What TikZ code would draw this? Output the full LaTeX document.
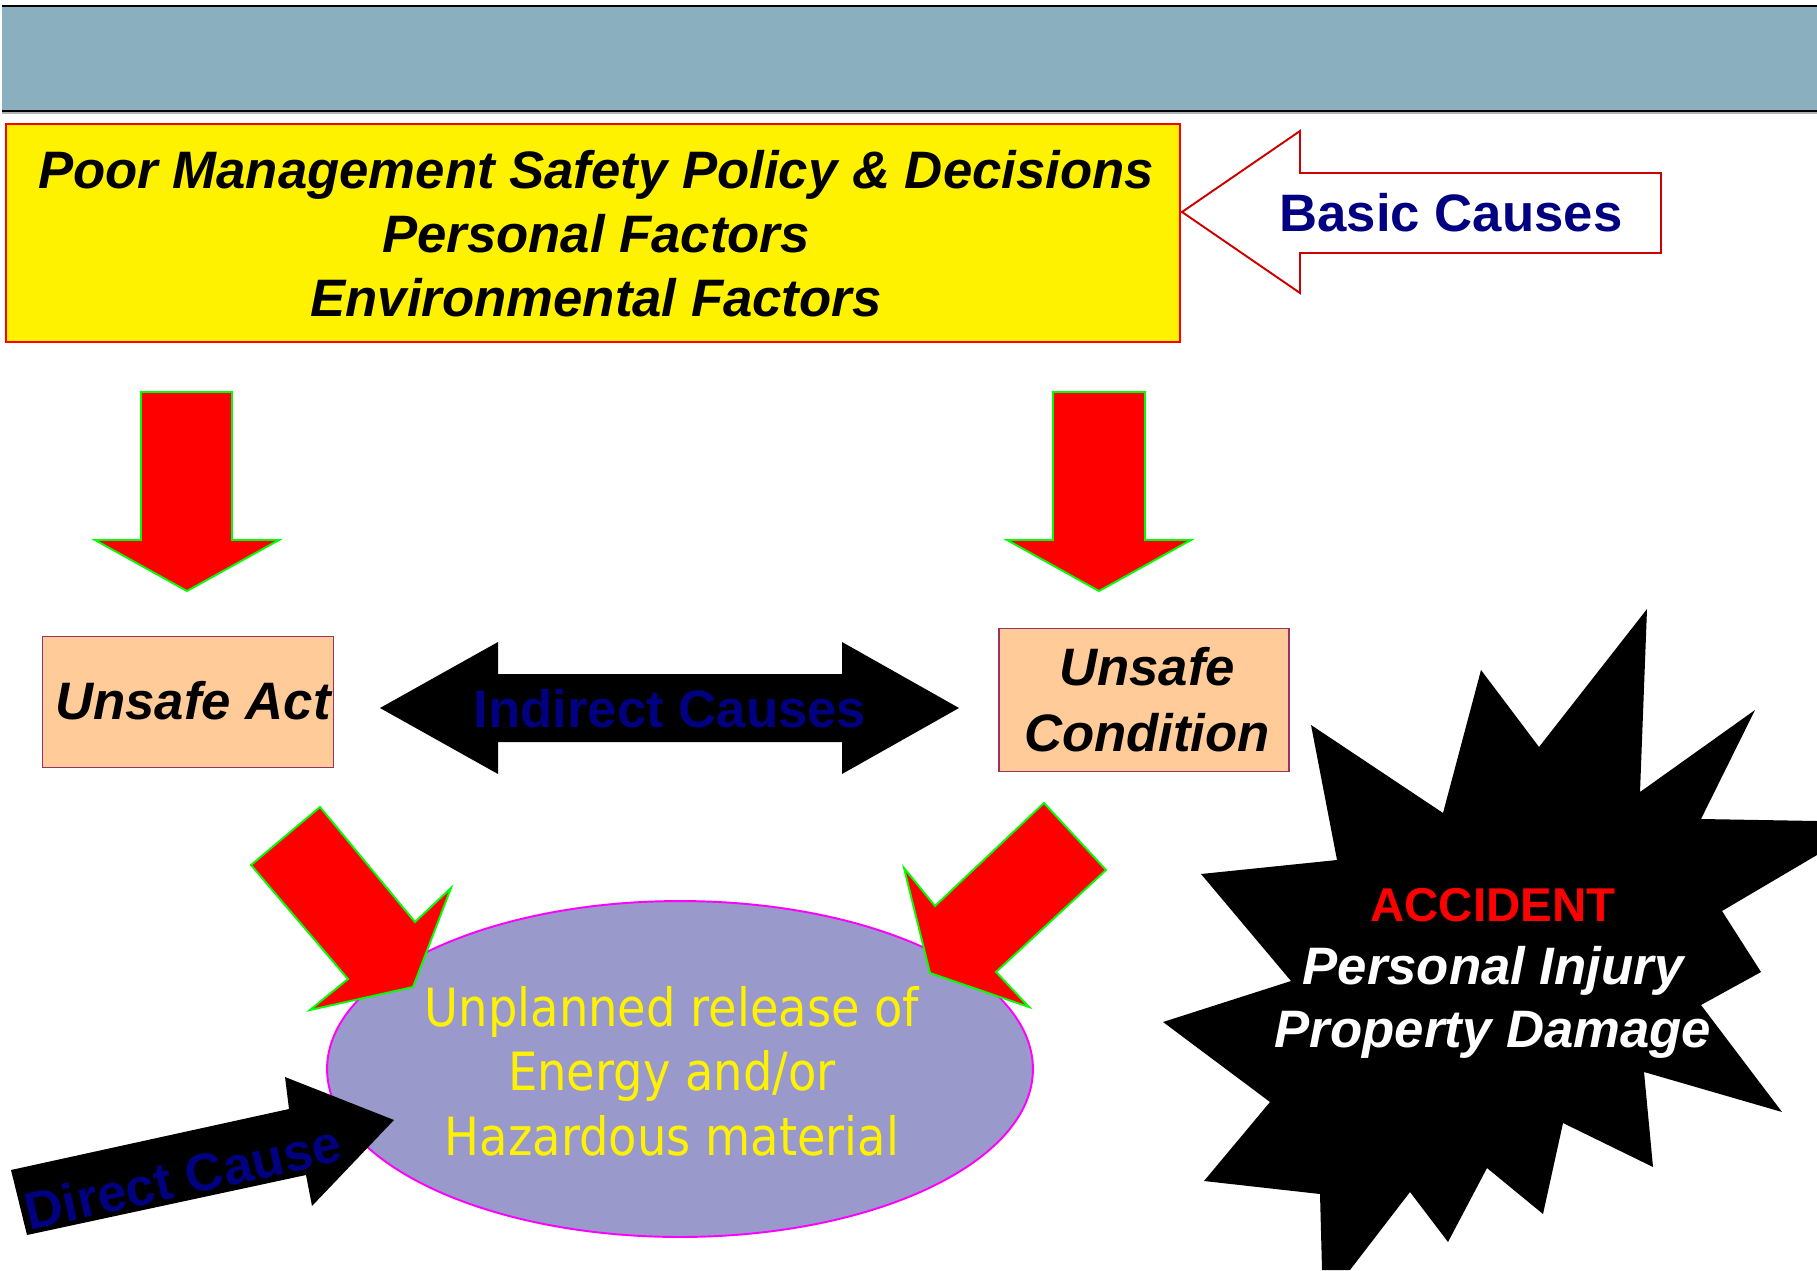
\documentclass[tikz,border=0pt]{standalone}
\usepackage{fontspec}
\setmainfont{Liberation Sans}
\newfontfamily\relfont[FakeStretch=0.88]{DejaVu Sans}
\usetikzlibrary{shapes.geometric}

\definecolor{bandblue}{RGB}{138,175,191}
\definecolor{peach}{RGB}{255,204,153}
\definecolor{plum}{RGB}{153,51,102}
\definecolor{lavender}{RGB}{153,153,204}
\definecolor{navyblue}{RGB}{0,0,128}
\definecolor{edgegreen}{RGB}{0,255,0}
\definecolor{darkred}{RGB}{204,0,0}
\definecolor{pinkline}{RGB}{255,0,255}

\begin{document}
\begin{tikzpicture}[x=0.02cm, y=-0.02cm, line join=miter,
    redarrow/.style={fill=red, draw=edgegreen, line width=1.1pt},
    blackarrow/.style={fill=black},
    causebox/.style={rectangle, fill=peach, draw=plum, line width=1.1pt, inner sep=0pt},
    boldit/.style={font=\fontsize{30}{36.4}\selectfont\bfseries\itshape, align=center, inner sep=0pt},
    navylabel/.style={text=navyblue, font=\fontsize{30}{36}\selectfont\bfseries, inner sep=0pt}]

  \useasboundingbox (0,0) rectangle (1817,1270);

  % title band
  \fill[bandblue] (2,6) rectangle (1817,111);
  \draw[gray!60, line width=1.2pt] (2,113) -- (1817,113);
  \draw[black, line width=1.6pt] (2,6) -- (1817,6);
  \draw[black, line width=1.6pt] (2,111) -- (1817,111);

  % basic causes
  \node[rectangle, fill=yellow, draw=red, line width=1.2pt, minimum width=23.48cm, minimum height=4.36cm] (policybox) at (593,233) {};
  \node[boldit] (policy) at (596,234) {Poor Management Safety Policy \& Decisions\\Personal Factors\\Environmental Factors};
  \draw[draw=darkred, line width=1.1pt, fill=white] (1182,212) -- (1300,131) -- (1300,173) -- (1661,173)
    -- (1661,253) -- (1300,253) -- (1300,293) -- cycle;
  \node[navylabel] (basic) at (1451,213) {Basic Causes};

  % down arrows
  \draw[redarrow] (141,392) -- (232,392) -- (232,540) -- (279,540) -- (187,591) -- (95,540) -- (141,540) -- cycle;
  \draw[redarrow] (1053,392) -- (1145,392) -- (1145,540) -- (1191,540) -- (1099,591) -- (1007,540) -- (1053,540) -- cycle;

  % indirect causes
  \node[causebox, minimum width=5.82cm, minimum height=2.62cm] (actbox) at (188,702) {};
  \node[boldit] (act) at (193,701) {Unsafe Act};
  \node[causebox, minimum width=5.80cm, minimum height=2.86cm] (condbox) at (1144,700) {};
  \node[boldit, font=\fontsize{30}{37.5}\selectfont\bfseries\itshape] (cond) at (1147,700) {Unsafe\\Condition};
  \fill[blackarrow] (380,708) -- (498,642) -- (498,674) -- (842,674) -- (842,642) -- (959,708)
    -- (842,774) -- (842,742) -- (498,742) -- (498,774) -- cycle;
  \node[navylabel] (indirect) at (670,709) {Indirect Causes};

  % release
  \node[ellipse, fill=lavender, draw=pinkline, line width=1.1pt, minimum width=14.12cm, minimum height=6.72cm] (blob) at (680,1069) {};
  \node[text=yellow, font=\relfont\fontsize{30}{36.7}\selectfont, align=center, inner sep=0pt] (release) at (672,1071)
    {Unplanned release of\\Energy and/or\\Hazardous material};
  \draw[redarrow] (320,807) -- (415,922) -- (451,888) -- (413,987) -- (310,1010) -- (348,979) -- (251,865) -- cycle;
  \draw[redarrow] (1044,803) -- (1106,870) -- (996,972) -- (1029,1007) -- (930,973) -- (904,868) -- (935,906) -- cycle;

  % direct cause
  \fill[blackarrow] (11,1170) -- (289,1109) -- (285,1077) -- (394,1120) -- (312,1206) -- (306,1175) -- (27,1235) -- cycle;
  \node[navylabel, rotate=12.5] (direct) at (183,1177) {Direct Cause};

  % accident
  \fill[black] (1647,609) -- (1640,792) -- (1755,710) -- (1701,819) -- (1817,821) -- (1817,855)
    -- (1722,911) -- (1761,972) -- (1701,1005) -- (1782,1112) -- (1644,1072) -- (1653,1167)
    -- (1563,1123) -- (1543,1214) -- (1487,1168) -- (1448,1242) -- (1410,1192) -- (1350,1270)
    -- (1322,1270) -- (1320,1194) -- (1204,1181) -- (1270,1102) -- (1163,1022) -- (1291,981)
    -- (1201,874) -- (1337,860) -- (1311,725) -- (1443,813) -- (1481,670) -- (1539,747) -- cycle;
  \node[boldit, text=white, font=\fontsize{30}{35.8}\selectfont\bfseries\itshape] (accident) at (1493,973)
    {\textcolor{red}{\upshape\fontsize{27}{35.8}\selectfont ACCIDENT}\\Personal Injury\\Property Damage};
\end{tikzpicture}
\end{document}
